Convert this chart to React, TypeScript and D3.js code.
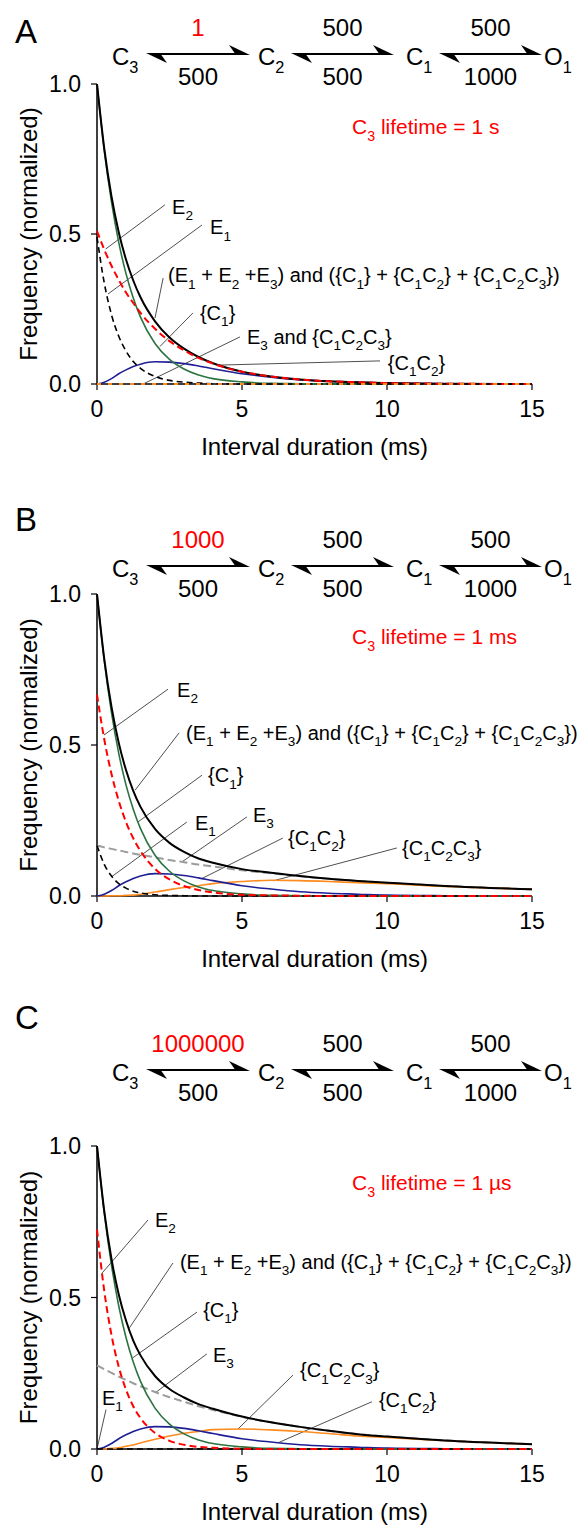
import React from "react";
import * as d3 from "d3";

const W = 581;
const H = 1529;

// Interval duration grid (ms)
const T = [0, 0.25, 0.5, 0.75, 1, 1.25, 1.5, 2, 2.5, 3, 3.5, 4, 5, 6, 7, 8, 9, 10, 12, 15];

// Components shared by all three schemes
const C1_ONLY = [1, 0.779, 0.607, 0.472, 0.368, 0.287, 0.223, 0.135, 0.082, 0.05, 0.03, 0.018, 0.007, 0.002, 0.001, 0, 0, 0, 0, 0];
const C1C2_ONLY = [0, 0.006, 0.018, 0.034, 0.047, 0.058, 0.066, 0.074, 0.073, 0.068, 0.06, 0.051, 0.034, 0.023, 0.014, 0.009, 0.006, 0.003, 0.001, 0];

// Panel A: C3 lifetime 1 s
const A_TOTAL = [1.0, 0.785, 0.625, 0.506, 0.415, 0.345, 0.289, 0.209, 0.155, 0.118, 0.09, 0.069, 0.041, 0.025, 0.015, 0.009, 0.006, 0.003, 0.001, 0];
const A_E1 = [0.49, 0.337, 0.231, 0.159, 0.11, 0.075, 0.052, 0.025, 0.012, 0.006, 0.003, 0.001, 0, 0, 0, 0, 0, 0, 0, 0];
const A_E2 = [0.51, 0.448, 0.394, 0.347, 0.305, 0.27, 0.237, 0.184, 0.143, 0.112, 0.087, 0.068, 0.041, 0.025, 0.015, 0.009, 0.006, 0.003, 0.001, 0];
const A_E3 = [0, 0, 0, 0, 0, 0, 0, 0, 0, 0, 0, 0, 0, 0, 0, 0, 0, 0, 0, 0];

// Panel B: C3 lifetime 1 ms
const B_TOTAL = [1.0, 0.785, 0.626, 0.507, 0.417, 0.348, 0.295, 0.222, 0.176, 0.146, 0.124, 0.11, 0.089, 0.077, 0.066, 0.057, 0.05, 0.044, 0.033, 0.022];
const B_E1 = [0.167, 0.105, 0.066, 0.041, 0.026, 0.016, 0.01, 0.004, 0.002, 0.001, 0, 0, 0, 0, 0, 0, 0, 0, 0, 0];
const B_E2 = [0.667, 0.519, 0.404, 0.315, 0.245, 0.191, 0.149, 0.09, 0.055, 0.033, 0.02, 0.012, 0.004, 0.002, 0.001, 0, 0, 0, 0, 0];
const B_E3 = [0.167, 0.161, 0.156, 0.151, 0.146, 0.141, 0.136, 0.128, 0.119, 0.112, 0.104, 0.098, 0.085, 0.075, 0.065, 0.057, 0.05, 0.044, 0.033, 0.022];
const B_C1C2C3 = [0, 0, 0.001, 0.001, 0.002, 0.003, 0.006, 0.013, 0.021, 0.028, 0.034, 0.041, 0.048, 0.052, 0.051, 0.048, 0.044, 0.041, 0.032, 0.022];

// Panel C: C3 lifetime 1 µs
const C_TOTAL = [1.0, 0.785, 0.627, 0.51, 0.424, 0.358, 0.309, 0.241, 0.198, 0.17, 0.148, 0.133, 0.107, 0.088, 0.073, 0.06, 0.049, 0.041, 0.028, 0.016];
const C_E1 = [0, 0, 0, 0, 0, 0, 0, 0, 0, 0, 0, 0, 0, 0, 0, 0, 0, 0, 0, 0];
const C_E2 = [0.724, 0.522, 0.376, 0.271, 0.196, 0.141, 0.102, 0.053, 0.027, 0.014, 0.007, 0.004, 0.001, 0, 0, 0, 0, 0, 0, 0];
const C_E3 = [0.276, 0.263, 0.251, 0.239, 0.228, 0.217, 0.207, 0.188, 0.171, 0.156, 0.141, 0.129, 0.106, 0.088, 0.073, 0.06, 0.049, 0.041, 0.028, 0.016];
const C_C1C2C3 = [0, 0, 0.002, 0.004, 0.009, 0.013, 0.02, 0.032, 0.043, 0.052, 0.058, 0.064, 0.066, 0.063, 0.058, 0.051, 0.043, 0.038, 0.027, 0.016];

// Axis ticks
const X_TICKS = [0, 5, 10, 15];
const Y_TICKS = [0, 0.5, 1];
const Y_TICK_LABELS = ["0.0", "0.5", "1.0"];

// Kinetic scheme text
const STATES = ["C_3", "C_2", "C_1", "O_1"];
const C3_TO_C2 = ["1", "1000", "1000000"];
const FORWARD_RATES = ["500", "500"];
const BACKWARD_RATES = ["500", "500", "1000"];
const LIFETIMES = ["1 s", "1 ms", "1 µs"];
const LETTERS = ["A", "B", "C"];

const FONT = "'Liberation Sans', Arial, Helvetica, sans-serif";

type Style = { color: string; width: number; dash?: string };
const ST: Record<string, Style> = {
  total: { color: "#000000", width: 2 },
  c1: { color: "#2b7440", width: 1.6 },
  c1c2: { color: "#1f1f95", width: 1.6 },
  c1c2c3: { color: "#ff8a1e", width: 1.6 },
  e1: { color: "#000000", width: 1.6, dash: "6,4" },
  e2: { color: "#ff0000", width: 2, dash: "7,4" },
  e3: { color: "#9c9c9c", width: 2, dash: "8,4" },
  e3a: { color: "#ff8a1e", width: 2, dash: "4,7" },
};

type Ann = { label: string; ax: number; ay: number; lx: number; ly: number; tx: number; ty: number };
const TOTAL_LABEL = "(E_1 + E_2 +E_3) and ({C_1} + {C_1C_2} + {C_1C_2C_3})";

const ANN_A: Ann[] = [
  { label: "E_2", ax: 0.3, ay: 0.45, lx: 2.34, ly: 0.597, tx: 2.59, ty: 0.59 },
  { label: "E_1", ax: 0.38, ay: 0.3, lx: 3.62, ly: 0.53, tx: 3.9, ty: 0.523 },
  { label: TOTAL_LABEL, ax: 2.0, ay: 0.22, lx: 2.28, ly: 0.353, tx: 2.45, ty: 0.363 },
  { label: "{C_1}", ax: 2.17, ay: 0.125, lx: 3.31, ly: 0.237, tx: 3.55, ty: 0.237 },
  { label: "E_3 and {C_1C_2C_3}", ax: 1.59, ay: 0, lx: 4.93, ly: 0.157, tx: 5.17, ty: 0.157 },
  { label: "{C_1C_2}", ax: 4.2, ay: 0.063, lx: 9.76, ly: 0.077, tx: 10.03, ty: 0.07 },
];
const ANN_B: Ann[] = [
  { label: "E_2", ax: 0.24, ay: 0.533, lx: 2.45, ly: 0.685, tx: 2.76, ty: 0.682 },
  { label: TOTAL_LABEL, ax: 1.31, ay: 0.35, lx: 2.83, ly: 0.54, tx: 3.07, ty: 0.54 },
  { label: "{C_1}", ax: 1.41, ay: 0.245, lx: 3.62, ly: 0.4, tx: 3.83, ty: 0.4 },
  { label: "E_1", ax: 0.52, ay: 0.065, lx: 3.1, ly: 0.245, tx: 3.38, ty: 0.242 },
  { label: "E_3", ax: 2.93, ay: 0.113, lx: 5.17, ly: 0.262, tx: 5.38, ty: 0.268 },
  { label: "{C_1C_2}", ax: 3.62, ay: 0.058, lx: 6.41, ly: 0.192, tx: 6.59, ty: 0.192 },
  { label: "{C_1C_2C_3}", ax: 6.07, ay: 0.05, lx: 10.34, ly: 0.159, tx: 10.52, ty: 0.159 },
];
const ANN_C: Ann[] = [
  { label: "E_2", ax: 0.17, ay: 0.58, lx: 1.76, ly: 0.756, tx: 2.0, ty: 0.756 },
  { label: TOTAL_LABEL, ax: 1.12, ay: 0.4, lx: 2.62, ly: 0.614, tx: 2.86, ty: 0.617 },
  { label: "{C_1}", ax: 1.22, ay: 0.3, lx: 3.45, ly: 0.452, tx: 3.66, ty: 0.459 },
  { label: "E_3", ax: 2.03, ay: 0.187, lx: 3.79, ly: 0.314, tx: 4.0, ty: 0.31 },
  { label: "{C_1C_2C_3}", ax: 4.86, ay: 0.066, lx: 6.76, ly: 0.244, tx: 7.0, ty: 0.26 },
  { label: "{C_1C_2}", ax: 6.28, ay: 0.022, lx: 9.48, ly: 0.156, tx: 9.72, ty: 0.162 },
  { label: "E_1", ax: 0, ay: 0, lx: 0.31, ly: 0.13, tx: 0.17, ty: 0.168 },
];

type Series = { values: number[]; style: Style };
type Panel = {
  top: number;
  bottom: number;
  letterY: number;
  schemeY: number;
  lifeY: number;
  series: Series[];
  ann: Ann[];
};

const PANELS: Panel[] = [
  {
    top: 84, bottom: 384, letterY: 43, schemeY: 54, lifeY: 127,
    series: [
      { values: C1C2_ONLY, style: ST.c1c2 },
      { values: C1_ONLY, style: ST.c1 },
      { values: A_E1, style: ST.e1 },
      { values: A_TOTAL, style: ST.total },
      { values: A_E2, style: ST.e2 },
      { values: A_E3, style: ST.e3a },
    ],
    ann: ANN_A,
  },
  {
    top: 594, bottom: 896, letterY: 531, schemeY: 566, lifeY: 637,
    series: [
      { values: B_E3, style: ST.e3 },
      { values: B_C1C2C3, style: ST.c1c2c3 },
      { values: C1C2_ONLY, style: ST.c1c2 },
      { values: C1_ONLY, style: ST.c1 },
      { values: B_E1, style: ST.e1 },
      { values: B_TOTAL, style: ST.total },
      { values: B_E2, style: ST.e2 },
    ],
    ann: ANN_B,
  },
  {
    top: 1146, bottom: 1449, letterY: 1029, schemeY: 1070, lifeY: 1183,
    series: [
      { values: C_E3, style: ST.e3 },
      { values: C_C1C2C3, style: ST.c1c2c3 },
      { values: C1C2_ONLY, style: ST.c1c2 },
      { values: C1_ONLY, style: ST.c1 },
      { values: C_E1, style: ST.e1 },
      { values: C_TOTAL, style: ST.total },
      { values: C_E2, style: ST.e2 },
    ],
    ann: ANN_C,
  },
];

const X0 = 97;
const X1 = 532;

// Text with "_d" subscripts
function Rich(props: { x: number; y: number; text: string; fs: number; fill?: string; anchor?: string }) {
  const { x, y, text, fs, fill = "#000", anchor = "start" } = props;
  const parts = text.split(/(_\d)/).filter((s) => s !== "");
  const shift = fs * 0.32;
  let down = false;
  const spans: React.ReactNode[] = [];
  parts.forEach((p, i) => {
    if (p.startsWith("_")) {
      spans.push(
        <tspan key={i} fontSize={fs * 0.68} dy={down ? 0 : shift}>
          {p.slice(1)}
        </tspan>
      );
      down = true;
    } else {
      spans.push(
        <tspan key={i} dy={down ? -shift : 0}>
          {p}
        </tspan>
      );
      down = false;
    }
  });
  return (
    <text x={x} y={y} fontSize={fs} fill={fill} textAnchor={anchor as any} fontFamily={FONT} style={{ whiteSpace: "pre" }}>
      {spans}
    </text>
  );
}

function Harpoons({ xa, xb, y }: { xa: number; xb: number; y: number }) {
  return (
    <g>
      <line x1={xa + 4} x2={xb - 4} y1={y} y2={y} stroke="#000" strokeWidth={2} />
      <polygon points={`${xb},${y + 1} ${xb - 21},${y - 9} ${xb - 14},${y + 1}`} fill="#000" />
      <polygon points={`${xa},${y - 1} ${xa + 21},${y + 9} ${xa + 14},${y - 1}`} fill="#000" />
    </g>
  );
}

function Scheme({ y, rate }: { y: number; rate: string }) {
  const fs = 24;
  const stateX = [112, 258, 406, 544];
  const arrows: [number, number][] = [
    [146, 250],
    [291, 394],
    [439, 542],
  ];
  const fwd = [rate, ...FORWARD_RATES];
  return (
    <g>
      {STATES.map((s, i) => (
        <Rich key={s} x={stateX[i]} y={y + 11} text={s} fs={fs} />
      ))}
      {arrows.map(([a, b], i) => (
        <g key={i}>
          <Harpoons xa={a} xb={b} y={y} />
          <Rich x={(a + b) / 2} y={y - 18} text={fwd[i]} fs={fs} anchor="middle" fill={i === 0 ? "#ff0000" : "#000"} />
          <Rich x={(a + b) / 2} y={y + 31} text={BACKWARD_RATES[i]} fs={fs} anchor="middle" />
        </g>
      ))}
    </g>
  );
}

function PanelView({ p, idx }: { p: Panel; idx: number }) {
  const x = d3.scaleLinear().domain([0, 15]).range([X0, X1]);
  const y = d3.scaleLinear().domain([0, 1]).range([p.bottom, p.top]);
  const line = d3
    .line<number>()
    .x((_, i) => x(T[i]))
    .y((v) => y(v))
    .curve(d3.curveMonotoneX);
  const fs = 23;
  const fsTitle = 24;
  return (
    <g>
      <text x={15} y={p.letterY} fontSize={33} fontFamily={FONT}>
        {LETTERS[idx]}
      </text>
      <Scheme y={p.schemeY} rate={C3_TO_C2[idx]} />
      <Rich x={352} y={p.lifeY + 7} text={`C_3 lifetime = ${LIFETIMES[idx]}`} fs={21} fill="#ff0000" />

      {/* axes */}
      <line x1={x(0)} x2={x(0)} y1={y(0)} y2={y(1)} stroke="#000" strokeWidth={1.5} />
      <line x1={x(0)} x2={x(15)} y1={y(0)} y2={y(0)} stroke="#000" strokeWidth={1.5} />
      {Y_TICKS.map((t, i) => (
        <g key={t}>
          <line x1={x(0) - 6} x2={x(0)} y1={y(t)} y2={y(t)} stroke="#000" strokeWidth={1.2} />
          <text x={x(0) - 16} y={y(t) + 8} fontSize={fs} textAnchor="end" fontFamily={FONT}>
            {Y_TICK_LABELS[i]}
          </text>
        </g>
      ))}
      {X_TICKS.map((t) => (
        <g key={t}>
          <line x1={x(t)} x2={x(t)} y1={y(0)} y2={y(0) + 6} stroke="#000" strokeWidth={1.2} />
          <text x={x(t)} y={y(0) + 33} fontSize={fs} textAnchor="middle" fontFamily={FONT}>
            {t}
          </text>
        </g>
      ))}
      <text x={(X0 + X1) / 2} y={y(0) + 71} fontSize={fsTitle} textAnchor="middle" fontFamily={FONT}>
        Interval duration (ms)
      </text>
      <text
        transform={`translate(37,${(p.top + p.bottom) / 2}) rotate(-90)`}
        fontSize={fsTitle}
        textAnchor="middle"
        fontFamily={FONT}
      >
        Frequency (normalized)
      </text>

      {/* annotation leaders */}
      {p.ann.map((a, i) => (
        <line key={i} x1={x(a.ax)} y1={y(a.ay)} x2={x(a.lx)} y2={y(a.ly)} stroke="#222" strokeWidth={0.8} />
      ))}

      {/* distributions */}
      {p.series.map((s, i) => (
        <path
          key={i}
          d={line(s.values) || ""}
          fill="none"
          stroke={s.style.color}
          strokeWidth={s.style.width}
          strokeDasharray={s.style.dash}
        />
      ))}

      {p.ann.map((a, i) => (
        <Rich key={i} x={x(a.tx)} y={y(a.ty) + 7} text={a.label} fs={20} />
      ))}
    </g>
  );
}

export default function App() {
  return (
    <svg
      width={W}
      height={H}
      viewBox={`0 0 ${W} ${H}`}
      style={{ display: "block", position: "absolute", left: 0, top: 0, background: "#fff" }}
    >
      <rect width={W} height={H} fill="#fff" />
      {PANELS.map((p, i) => (
        <PanelView key={i} p={p} idx={i} />
      ))}
    </svg>
  );
}
